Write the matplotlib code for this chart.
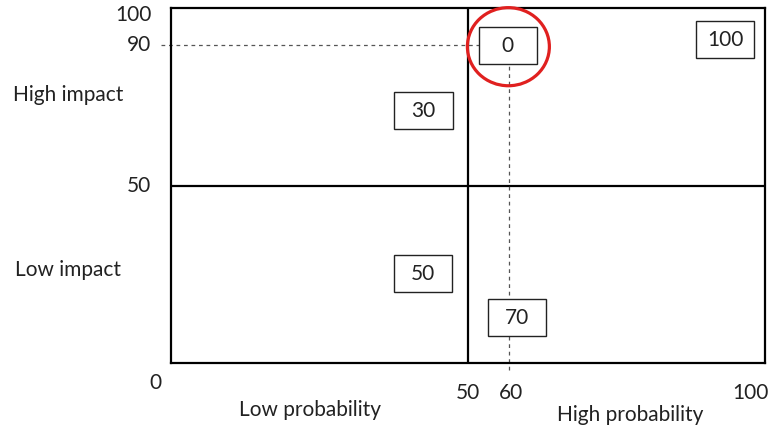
import matplotlib.pyplot as plt
from matplotlib.patches import Rectangle, Ellipse

plt.rcParams['font.family'] = ['Lato', 'DejaVu Sans']

# box labels and where they sit (probability, impact)
box_labels = ["0", "100", "30", "50", "70"]
box_x = [56.7, 93.3, 42.5, 42.4, 58.2]
box_y = [89.4, 91.0, 71.0, 25.1, 12.7]

# highlighted point
point_x = 56.9
point_y = 89.6

x_ticks = [(-2.7, "0"), (50, "50"), (57.3, "60"), (97.5, "100")]
y_ticks = [(98, "100"), (89.6, "90"), (50, "50")]

FS = 15
TC = '#222222'

fig = plt.figure(figsize=(7.71, 4.30), dpi=100)
ax = fig.add_axes([171/771, 1-363/430, 594/771, 355/430])
ax.set_xlim(0, 100)
ax.set_ylim(0, 100)
ax.set_xticks([])
ax.set_yticks([])
for s in ax.spines.values():
    s.set_linewidth(1.6)
    s.set_color('black')

ax.axvline(50, color='black', lw=1.6)
ax.axhline(50, color='black', lw=1.6)

# dashed guides to the highlighted point
ax.plot([-1.7, point_x - 5], [point_y, point_y], ls=(0, (3, 3)), color='#555555', lw=0.9, clip_on=False)
ax.plot([point_x, point_x], [-2, point_y - 5], ls=(0, (3, 3)), color='#555555', lw=0.9, clip_on=False)

bw, bh = 9.8, 10.4
for lab, x, y in zip(box_labels, box_x, box_y):
    ax.add_patch(Rectangle((x - bw/2, y - bh/2), bw, bh, facecolor='white',
                           edgecolor='#222222', lw=1.0, zorder=3))
    ax.text(x, y, lab, ha='center', va='center', fontsize=FS, color=TC, zorder=4)

ax.add_patch(Ellipse((point_x - 0.1, point_y - 0.5), 13.8, 22, fill=False,
                     edgecolor='#e0201f', lw=2.3, zorder=5, clip_on=False))

for x, t in x_ticks:
    y = -5.6 if t == "0" else -8.5
    ax.text(x, y, t, ha='center', va='center', fontsize=FS, color=TC, clip_on=False)
for y, t in y_ticks:
    ax.text(-3.3, y, t, ha='right', va='center', fontsize=FS, color=TC, clip_on=False)

ax.text(-17.3, 75.5, "High impact", ha='center', va='center', fontsize=FS, color=TC)
ax.text(-17.3, 26.2, "Low impact", ha='center', va='center', fontsize=FS, color=TC)
ax.text(23.4, -13.2, "Low probability", ha='center', va='center', fontsize=FS, color=TC)
ax.text(77.3, -14.6, "High probability", ha='center', va='center', fontsize=FS, color=TC)

fig.savefig("out.png", dpi=100)
